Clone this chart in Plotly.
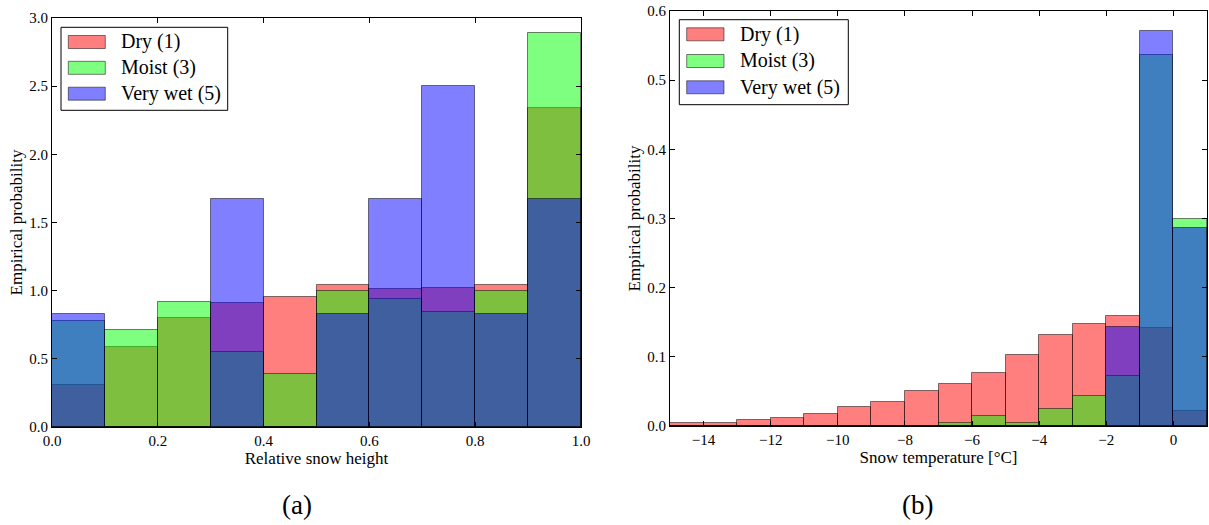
import plotly.graph_objects as go

W, H = 1209, 525

# ---------------- data ----------------
# Panel (a): relative snow height histogram (density)
height_edges = [0.0, 0.1, 0.2, 0.3, 0.4, 0.5, 0.6, 0.7, 0.8, 0.9, 1.0]
height_dry = [0.31, 0.59, 0.80, 0.91, 0.95, 1.04, 1.01, 1.02, 1.04, 2.34]
height_moist = [0.78, 0.71, 0.92, 0.55, 0.39, 1.00, 0.94, 0.84, 1.00, 2.89]
height_verywet = [0.83, 0.0, 0.0, 1.67, 0.0, 0.83, 1.67, 2.50, 0.83, 1.67]

# Panel (b): snow temperature histogram (density)
temp_edges = [-15, -14, -13, -12, -11, -10, -9, -8, -7, -6, -5, -4, -3, -2, -1, 0, 1]
temp_dry = [0.004, 0.005, 0.009, 0.011, 0.018, 0.028, 0.035, 0.051,
            0.061, 0.077, 0.103, 0.131, 0.147, 0.159, 0.142, 0.021]
temp_moist = [0, 0, 0, 0, 0, 0, 0, 0,
              0.004, 0.015, 0.004, 0.025, 0.043, 0.072, 0.536, 0.300]
temp_verywet = [0, 0, 0, 0, 0, 0, 0, 0,
                0, 0, 0, 0, 0, 0.143, 0.571, 0.286]

series_names = ["Dry (1)", "Moist (3)", "Very wet (5)"]
series_colors = ["rgba(255,0,0,0.5)", "rgba(0,255,0,0.5)", "rgba(0,0,255,0.5)"]

left_xticks = [0.0, 0.2, 0.4, 0.6, 0.8, 1.0]
right_xticks = [-14, -12, -10, -8, -6, -4, -2, 0]

FONT = "Liberation Serif"
EDGE = "rgba(0,0,0,0.5)"


def px(x):
    return x / W


def py(y):
    return 1 - y / H


def centers_widths(edges):
    c = [(a + b) / 2 for a, b in zip(edges[:-1], edges[1:])]
    w = [(b - a) for a, b in zip(edges[:-1], edges[1:])]
    return c, w


fig = go.Figure()

hc, hw = centers_widths(height_edges)
for name, col, vals in zip(series_names, series_colors,
                           [height_dry, height_moist, height_verywet]):
    fig.add_trace(go.Bar(x=hc, y=vals, width=hw, name=name,
                         marker=dict(color=col, line=dict(color=EDGE, width=1)),
                         xaxis="x", yaxis="y", showlegend=False))

tc, tw = centers_widths(temp_edges)
for name, col, vals in zip(series_names, series_colors,
                           [temp_dry, temp_moist, temp_verywet]):
    fig.add_trace(go.Bar(x=tc, y=vals, width=tw, name=name,
                         marker=dict(color=col, line=dict(color=EDGE, width=1)),
                         xaxis="x2", yaxis="y2", showlegend=False))

axis_common = dict(showline=True, linecolor="black", linewidth=1, mirror="ticks",
                   ticks="inside", ticklen=5, tickcolor="black", tickwidth=1,
                   showgrid=False, zeroline=False, automargin=False,
                   tickfont=dict(family=FONT, size=15, color="black"))

TITLE_FONT = dict(family=FONT, size=17, color="black")

fig.update_layout(
    width=W, height=H,
    margin=dict(l=0, r=0, t=0, b=0, autoexpand=False),
    paper_bgcolor="white", plot_bgcolor="white",
    barmode="overlay", bargap=0,
    font=dict(family=FONT, color="black"),
    xaxis=dict(domain=[px(52), px(581)], range=[0, 1], anchor="y",
               tickvals=left_xticks, ticktext=[f"{v:.1f}" for v in left_xticks],
               title=dict(text="Relative snow height", standoff=3, font=TITLE_FONT),
               **axis_common),
    yaxis=dict(domain=[py(427), py(18)], range=[0, 3], anchor="x",
               dtick=0.5, tickformat=".1f",
               title=dict(text="Empirical probability", standoff=2, font=TITLE_FONT),
               **axis_common),
    xaxis2=dict(domain=[px(670), px(1207)], range=[-15, 1], anchor="y2",
                tickvals=right_xticks,
                ticktext=[("\u2212" + str(abs(v))) if v < 0 else str(v) for v in right_xticks],
                title=dict(text="Snow temperature [°C]", standoff=3, font=TITLE_FONT),
                **axis_common),
    yaxis2=dict(domain=[py(426), py(11)], range=[0, 0.6], anchor="x2",
                dtick=0.1, tickformat=".1f",
                title=dict(text="Empirical probability", standoff=2, font=TITLE_FONT),
                **axis_common),
)

shapes = []
annotations = []


def add_legend(box, patch_x, row_y, text_x, fsize=20):
    x0, y0, x1, y1 = box
    shapes.append(dict(type="rect", xref="paper", yref="paper",
                       x0=px(x0), x1=px(x1), y0=py(y1), y1=py(y0),
                       line=dict(color="black", width=1), fillcolor="white",
                       layer="above"))
    for name, col, yc in zip(series_names, series_colors, row_y):
        shapes.append(dict(type="rect", xref="paper", yref="paper",
                           x0=px(patch_x[0]), x1=px(patch_x[1]),
                           y0=py(yc + 6.5), y1=py(yc - 6.5),
                           line=dict(color=EDGE, width=1), fillcolor=col,
                           layer="above"))
        annotations.append(dict(text=name, xref="paper", yref="paper",
                                x=px(text_x), y=py(yc), xanchor="left", yanchor="middle",
                                showarrow=False,
                                font=dict(family=FONT, size=fsize, color="black")))


add_legend((61, 27.3, 227.7, 110.3), (68.3, 105.3), [42, 67.8, 93.7], 118.5)
add_legend((679.3, 19.7, 848.3, 104.7), (686.7, 724), [34.3, 61, 87.3], 737.5)

annotations.append(dict(text="(a)", xref="paper", yref="paper", x=px(297), y=py(505),
                        xanchor="center", yanchor="middle", showarrow=False,
                        font=dict(family=FONT, size=27, color="black")))
annotations.append(dict(text="(b)", xref="paper", yref="paper", x=px(917), y=py(505),
                        xanchor="center", yanchor="middle", showarrow=False,
                        font=dict(family=FONT, size=27, color="black")))

fig.update_layout(shapes=shapes, annotations=annotations)

fig.write_html("out.html")
